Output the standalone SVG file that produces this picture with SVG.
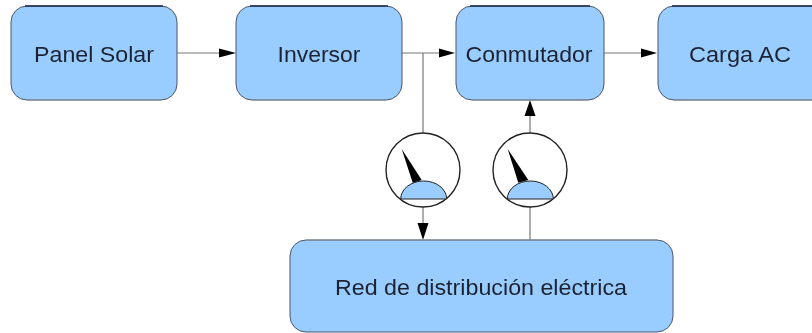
<svg xmlns="http://www.w3.org/2000/svg" width="812" height="333" viewBox="0 0 812 333">
<style>
.box{fill:#99ccff;stroke:#4a5568;stroke-width:1}
.lbl{font-family:"Liberation Sans",Arial,sans-serif;font-size:22px;fill:#1c2433;text-anchor:middle}
.wire{fill:none;stroke:#777;stroke-width:1.2}
.ring{fill:#fff;stroke:#222;stroke-width:1.4}
.dome{fill:#99ccff;stroke:#222;stroke-width:1}
.needle{fill:#000}
.head{fill:#000}
.top{fill:none;stroke:#1f2a44;stroke-width:1.4}
.bottom{fill:none;stroke:#8a8f98;stroke-width:1.2}
</style>
<defs><filter id="soft" x="-5%" y="-5%" width="110%" height="110%"><feGaussianBlur stdDeviation="0.7"/></filter></defs>
<rect width="812" height="333" fill="#fff"/>
<g filter="url(#soft)">
<g id="connectors">
<path class="wire" d="M177 53H220"/><polygon class="head" points="236,53 219,48.500 219,57.500"/>
<path class="wire" d="M402 53H440"/><polygon class="head" points="455,53 439,48.500 439,57.500"/>
<path class="wire" d="M604 53H642"/><polygon class="head" points="657,53 641,48.500 641,57.500"/>
<path class="wire" d="M423 53V133"/>
<path class="wire" d="M423 207V225"/><polygon class="head" points="423,240 417.500,223 428.500,223"/>
<path class="wire" d="M530 133V115"/><polygon class="head" points="530,100 524.500,116 535.500,116"/>
<path class="wire" d="M530 207V240"/>
</g>
<g id="panel-solar"><rect class="box" x="11" y="6" width="166" height="94" rx="16"/><path class="top" d="M25 6H163"/><path class="bottom" d="M27 100H161"/><text class="lbl" x="94" y="62" textLength="120" lengthAdjust="spacingAndGlyphs">Panel Solar</text></g>
<g id="inversor"><rect class="box" x="236" y="6" width="166" height="94" rx="16"/><path class="top" d="M250 6H388"/><path class="bottom" d="M252 100H386"/><text class="lbl" x="319" y="62" textLength="83" lengthAdjust="spacingAndGlyphs">Inversor</text></g>
<g id="conmutador"><rect class="box" x="456" y="6" width="148" height="94" rx="16"/><path class="top" d="M470 6H590"/><path class="bottom" d="M472 100H588"/><text class="lbl" x="529" y="62" textLength="127" lengthAdjust="spacingAndGlyphs">Conmutador</text></g>
<g id="carga-ac"><rect class="box" x="658" y="6" width="170" height="94" rx="16"/><path class="top" d="M672 6H812"/><path class="bottom" d="M674 100H812"/><text class="lbl" x="740" y="62" textLength="102" lengthAdjust="spacingAndGlyphs">Carga AC</text></g>
<g id="red"><rect class="box" x="290" y="240" width="383" height="92" rx="16"/><path class="bottom" d="M306 240H657"/><text class="lbl" x="481" y="295" textLength="292" lengthAdjust="spacingAndGlyphs">Red de distribución eléctrica</text></g>
<g id="medidor-1">
<circle class="ring" cx="423" cy="170" r="37"/>
<path class="dome" d="M400.700 199A23 18 0 0 1 446.700 199Z"/>
<polygon class="needle" points="401.700,149 412.700,182.700 421.700,180"/>
</g>
<g id="medidor-2">
<circle class="ring" cx="530" cy="170" r="37"/>
<path class="dome" d="M507.300 199A23 18 0 0 1 553.300 199Z"/>
<polygon class="needle" points="507.700,149 518.300,182.700 528.300,180"/>
</g>
</g>
</svg>
